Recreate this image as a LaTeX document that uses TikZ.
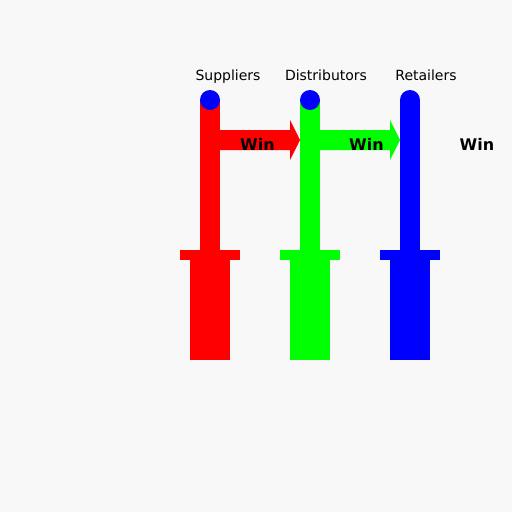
\documentclass[tikz,border=0pt]{standalone}
\usepackage{fontspec}
\setmainfont{DejaVu Sans}
\definecolor{bg}{HTML}{F8F8F8}
\definecolor{cred}{HTML}{FF0000}
\definecolor{cgreen}{HTML}{00FF00}
\definecolor{cblue}{HTML}{0000FF}
\begin{document}
\begin{tikzpicture}[x=1pt,y=-1pt,
  lab/.style={font=\fontsize{14}{16}\selectfont, inner sep=0pt, text=black},
  win/.style={font=\bfseries\fontsize{16}{18}\selectfont, inner sep=0pt, text=black},
  capdot/.style={fill=cblue, draw=none}]
\fill[bg] (0,0) rectangle (512,512);
\useasboundingbox (0,0) rectangle (512,512);
% columns
\foreach \x/\c in {210/cred,310/cgreen,410/cblue}{
  \fill[\c] (\x-10,100) rectangle (\x+10,250);
  \fill[\c] (\x-30,250) rectangle (\x+30,260);
  \fill[\c] (\x-20,260) rectangle (\x+20,360);
}
% arrows
\fill[cred] (220,130) -- (290,130) -- (290,120) -- (300,140) -- (290,160) -- (290,150) -- (220,150) -- cycle;
\fill[cgreen] (320,130) -- (390,130) -- (390,120) -- (400,140) -- (390,160) -- (390,150) -- (320,150) -- cycle;
% caps
\fill[capdot] (210,100) circle (10);
\fill[capdot] (310,100) circle (10);
\fill[capdot] (410,100) circle (10);
% labels
\node[lab, anchor=base] (sup) at (228,80) {Suppliers};
\node[lab, anchor=base] (dis) at (326,80) {Distributors};
\node[lab, anchor=base] (ret) at (426,80) {Retailers};
\node[win, anchor=base] (w1) at (257.5,150) {Win};
\node[win, anchor=base] (w2) at (366.5,150) {Win};
\node[win, anchor=base] (w3) at (477,150) {Win};
\end{tikzpicture}
\end{document}
